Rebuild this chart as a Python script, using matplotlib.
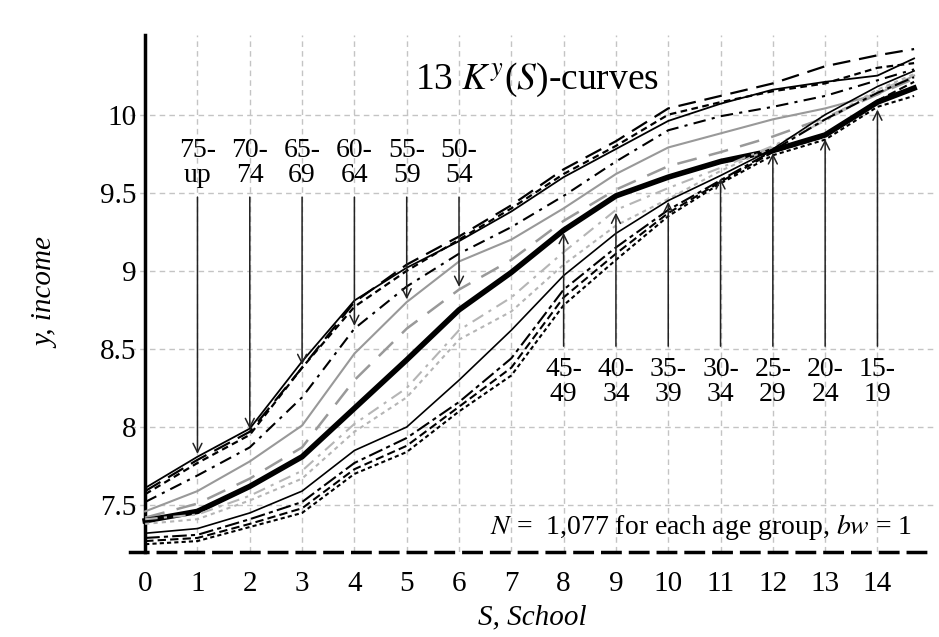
import numpy as np
import matplotlib
matplotlib.use("Agg")
import matplotlib.pyplot as plt

plt.rcParams['font.family'] = ['Liberation Serif', 'DejaVu Serif']
plt.rcParams['mathtext.fontset'] = 'stix'

school = [0, 1, 2, 3, 4, 5, 6, 7, 8, 9, 10, 11, 12, 13, 14, 14.7]

# K^y(S) curves, one per age group (log income)
age_75up = [7.61, 7.81, 7.99, 8.42, 8.81, 9.02, 9.19, 9.38, 9.60, 9.78, 9.96, 10.07, 10.16, 10.21, 10.25, 10.36]
age_70_74 = [7.59, 7.79, 7.97, 8.38, 8.80, 9.04, 9.22, 9.42, 9.65, 9.83, 10.04, 10.12, 10.20, 10.31, 10.38, 10.42]
age_65_69 = [7.57, 7.77, 7.95, 8.38, 8.77, 9.00, 9.20, 9.40, 9.62, 9.80, 10.00, 10.08, 10.15, 10.20, 10.30, 10.33]
age_60_64 = [7.52, 7.69, 7.87, 8.19, 8.63, 8.90, 9.11, 9.28, 9.48, 9.70, 9.90, 9.99, 10.05, 10.12, 10.22, 10.29]
age_55_59 = [7.46, 7.59, 7.78, 8.01, 8.47, 8.80, 9.06, 9.20, 9.40, 9.62, 9.79, 9.88, 9.97, 10.04, 10.13, 10.25]
age_50_54 = [7.42, 7.51, 7.67, 7.87, 8.30, 8.63, 8.88, 9.07, 9.32, 9.52, 9.67, 9.76, 9.86, 9.98, 10.13, 10.23]
age_45_49 = [7.40, 7.46, 7.62, 7.81, 8.12, 8.43, 8.75, 8.99, 9.26, 9.48, 9.60, 9.70, 9.77, 9.87, 10.08, 10.17]
age_40_44 = [7.41, 7.44, 7.56, 7.72, 8.02, 8.25, 8.62, 8.83, 9.12, 9.39, 9.53, 9.66, 9.80, 9.96, 10.15, 10.25]
age_35_39 = [7.38, 7.41, 7.53, 7.67, 7.97, 8.19, 8.56, 8.74, 9.04, 9.29, 9.46, 9.64, 9.79, 9.97, 10.16, 10.26]
age_30_34 = [7.32, 7.35, 7.45, 7.59, 7.85, 8.00, 8.30, 8.62, 8.97, 9.24, 9.45, 9.61, 9.78, 10.00, 10.18, 10.28]
age_25_29 = [7.29, 7.31, 7.41, 7.52, 7.77, 7.93, 8.16, 8.44, 8.88, 9.15, 9.39, 9.58, 9.77, 9.97, 10.14, 10.24]
age_20_24 = [7.27, 7.29, 7.38, 7.48, 7.73, 7.88, 8.13, 8.38, 8.83, 9.11, 9.37, 9.57, 9.76, 9.86, 10.09, 10.21]
age_15_19 = [7.25, 7.27, 7.36, 7.45, 7.70, 7.84, 8.10, 8.33, 8.78, 9.07, 9.35, 9.56, 9.74, 9.84, 10.05, 10.12]

curves = [age_75up, age_70_74, age_65_69, age_60_64, age_55_59, age_50_54, age_45_49,
          age_40_44, age_35_39, age_30_34, age_25_29, age_20_24, age_15_19]
age_labels = ['75-\nup', '70-\n74', '65-\n69', '60-\n64', '55-\n59', '50-\n54', '45-\n49',
              '40-\n34', '35-\n39', '30-\n34', '25-\n29', '20-\n24', '15-\n19']
# schooling level where each label's arrow hits its curve
label_school = [1, 2, 3, 4, 5, 6, 8, 9, 10, 11, 12, 13, 14]

styles = [
    dict(color='black', lw=1.3, ls='-'),
    dict(color='black', lw=1.6, ls=(0, (8, 4))),
    dict(color='black', lw=1.6, ls=(0, (3, 2))),
    dict(color='black', lw=1.5, ls=(0, (6, 3, 1.5, 3))),
    dict(color='#999999', lw=1.5, ls='-'),
    dict(color='#999999', lw=1.8, ls=(0, (8, 5))),
    dict(color='black', lw=4.0, ls='-'),
    dict(color='#b5b5b5', lw=1.5, ls=(0, (6, 3, 1.5, 3))),
    dict(color='#b5b5b5', lw=1.5, ls=(0, (2, 2))),
    dict(color='black', lw=1.2, ls='-'),
    dict(color='black', lw=1.5, ls=(0, (7, 2, 2, 2))),
    dict(color='black', lw=1.5, ls=(0, (4, 2))),
    dict(color='black', lw=1.5, ls=(0, (2, 1.5))),
]

fig = plt.figure(figsize=(9.39, 6.37), dpi=100)
ax = fig.add_axes([130 / 939, 1 - 552 / 637, 805 / 939, 517 / 637])

for vals, st in zip(curves, styles):
    ax.plot(school, vals, **st, zorder=3)

# arrows from the age labels to their curves
for i, (lab, s) in enumerate(zip(age_labels, label_school)):
    tip = curves[i][school.index(s)]
    if s <= 6:
        ax.annotate('', xy=(s, tip), xytext=(s, 9.49),
                    arrowprops=dict(arrowstyle='->', lw=1.1, color='#222222', mutation_scale=16))
        ax.text(s, 9.69, lab, ha='center', va='center', fontsize=20, linespacing=1.0)
    else:
        ax.annotate('', xy=(s, tip), xytext=(s, 8.5),
                    arrowprops=dict(arrowstyle='->', lw=1.1, color='#222222', mutation_scale=16))
        ax.text(s, 8.29, lab, ha='center', va='center', fontsize=20, linespacing=1.0)

ax.text(7.5, 10.22, r'13 $K^y$($S$)-curves', ha='center', va='center', fontsize=27)
ax.text(14.67, 7.36, r'$N$ =  1,077 for each age group, $bw$ = 1', ha='right', va='center', fontsize=20)

ax.set_xlim(-0.29, 15.1)
ax.set_ylim(7.2, 10.51)
ax.set_xticks(range(15))
ax.set_yticks([7.5, 8, 8.5, 9, 9.5, 10])
ax.set_yticklabels(['7.5', '8', '8.5', '9', '9.5', '10'])
ax.grid(True, color='#c4c4c4', ls=(0, (4, 3)), lw=1)
ax.tick_params(axis='both', length=0, labelsize=21)
ax.tick_params(axis='x', pad=14)
ax.tick_params(axis='y', pad=6)

ax.spines['top'].set_visible(False)
ax.spines['right'].set_visible(False)
ax.spines['left'].set_position(('data', 0))
ax.spines['left'].set_linewidth(2.5)
ax.spines['bottom'].set_linewidth(2.5)
ax.spines['bottom'].set_linestyle((0, (5, 3)))

ax.set_xlabel('S, School', fontsize=21, style='italic', labelpad=5)
ax.set_ylabel('y, income', fontsize=21, style='italic')
ax.yaxis.set_label_coords(-0.088, 0.5)

fig.savefig('out.png', dpi=100)
